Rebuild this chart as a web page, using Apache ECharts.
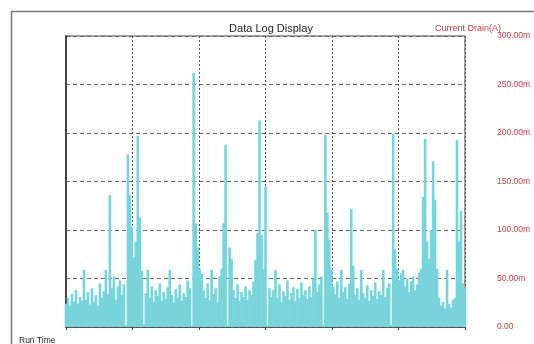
<!DOCTYPE html>
<html>
<head>
<meta charset="utf-8">
<script src="https://cdn.jsdelivr.net/npm/echarts@6/dist/echarts.min.js"></script>
<style>
  html, body { margin: 0; padding: 0; background: #fff; }
  #chart { width: 534px; height: 344px; }
</style>
</head>
<body>
<div id="chart"></div>
<script>
// current drain samples (mA), one per run-time step
const drain = [
  24, 30, 22, 34, 26, 38, 24, 31, 27, 59,
  28, 36, 23, 40, 26, 33, 22, 45, 30, 37,
  59, 34, 136, 40, 52, 28, 42, 48, 33, 44,
  2, 178, 136, 103, 72, 88, 197, 113, 58, 3,
  35, 59, 30, 42, 26, 38, 32, 45, 27, 36,
  29, 41, 59, 33, 25, 39, 30, 44, 27, 35,
  31, 48, 40, 2, 262, 107, 82, 60, 55, 38,
  30, 45, 28, 59, 34, 40, 26, 52, 60, 107,
  188, 2, 82, 70, 38, 30, 44, 27, 36, 31,
  42, 28, 38, 33, 47, 69, 97, 213, 95, 60,
  145, 2, 40, 31, 38, 59, 30, 44, 26, 37,
  32, 48, 28, 35, 41, 27, 39, 30, 46, 33,
  38, 29, 42, 31, 50, 100, 36, 44, 52, 2,
  198, 118, 90, 60, 42, 34, 47, 30, 59, 36,
  41, 29, 45, 122, 63, 33, 40, 28, 59, 35,
  30, 43, 27, 38, 32, 46, 29, 37, 33, 59,
  31, 40, 45, 2, 199, 80, 60, 48, 55, 59,
  42, 50, 36, 47, 52, 38, 44, 56, 60, 134,
  194, 88, 70, 100, 171, 131, 60, 30, 22, 26,
  19, 59, 24, 20, 28, 30, 193, 88, 120, 45,
  40
]
const timeStep = 3
const yTicks = [0, 50, 100, 150, 200, 250, 300]

const points = drain.map((v, i) => [i * timeStep, v])
const red = '#c43c3c'

const chart = echarts.init(document.getElementById('chart'), null, { renderer: 'canvas' })
chart.setOption({
  animation: false,
  backgroundColor: '#fff',
  textStyle: { fontFamily: 'Liberation Sans, Arial, sans-serif' },
  title: [
    {
      text: 'Data Log Display',
      left: 266,
      top: 18,
      textAlign: 'center',
      textStyle: { fontSize: 11, fontWeight: 'normal', color: '#222' }
    },
    {
      text: 'Current Drain(A)',
      left: 430,
      top: 19,
      textStyle: { fontSize: 9, fontWeight: 'normal', color: red }
    },
    {
      text: 'Run Time',
      left: 14,
      top: 331,
      textStyle: { fontSize: 8.5, fontWeight: 'normal', color: '#222' }
    }
  ],
  graphic: [{
    type: 'rect',
    shape: { x: 11.5, y: 11.5, width: 700, height: 500 },
    style: { fill: null, stroke: '#7a7a7a', lineWidth: 1.5 },
    silent: true
  }],
  grid: {
    left: 66,
    right: 69,
    top: 36,
    bottom: 17,
    show: true,
    borderColor: '#444',
    borderWidth: 1
  },
  xAxis: {
    type: 'value',
    min: 0,
    max: (drain.length - 1) * timeStep,
    interval: 100,
    axisLine: { show: true, lineStyle: { color: '#444', width: 1.5 } },
    axisTick: { show: true, length: 3, lineStyle: { color: '#444' } },
    axisLabel: { show: false },
    splitLine: { show: true, lineStyle: { color: '#555', type: [2, 2], width: 1 } }
  },
  yAxis: {
    type: 'value',
    position: 'right',
    min: yTicks[0],
    max: yTicks[yTicks.length - 1],
    interval: 50,
    axisLine: { show: true, lineStyle: { color: '#444', width: 2 } },
    axisTick: { show: false },
    axisLabel: {
      margin: 32,
      color: red,
      fontSize: 8.5,
      align: 'left',
      formatter: v => (v === 0 ? '0.00' : v.toFixed(2) + 'm')
    },
    splitLine: { show: true, lineStyle: { color: '#666', type: [4, 3], width: 1 } }
  },
  series: [{
    type: 'bar',
    data: points,
    barWidth: 2.6,
    barGap: '-100%',
    itemStyle: { color: '#78d4da' },
    z: 1
  }]
})
</script>
</body>
</html>
